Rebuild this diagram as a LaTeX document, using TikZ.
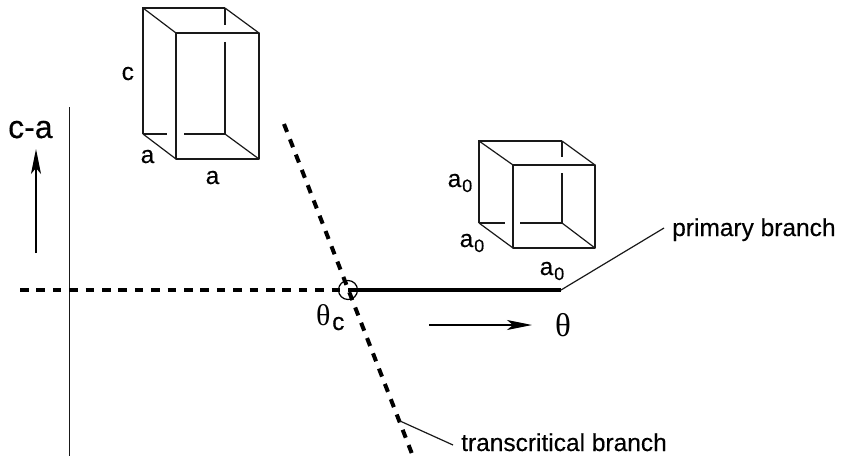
\documentclass[tikz,border=0pt]{standalone}
\usepackage{fontspec}
\setmainfont[FakeBold=0.3,AutoFakeBold=false]{Liberation Sans}
\newfontfamily\greekfont{Liberation Serif}
\usetikzlibrary{arrows.meta}
\tikzset{
  x=1pt,y=-1pt,
  edge/.style={draw=black!90,line width=1.2pt},
  thin line/.style={draw=black!90,line width=1.2pt},
  thick dash/.style={draw=black,line width=4pt,dash pattern=on 8.5pt off 7.9pt},
  thick solid/.style={draw=black,line width=4pt},
  axis arrow/.style={draw=black,line width=1.2pt,-{Stealth[length=25pt,width=10pt,inset=6pt]}},
  lab/.style={font=\fontsize{24.5}{28}\selectfont,inner sep=0pt,text=black,anchor=base west},
  biglab/.style={font=\fontsize{32}{36}\selectfont,inner sep=0pt,text=black,anchor=base west},
  greeklab/.style={font=\fontsize{33}{36}\selectfont\greekfont,inner sep=0pt,text=black},
  sublab/.style={font=\fontsize{18}{20}\selectfont,inner sep=0pt,text=black,anchor=base west},
}
\begin{document}
\begin{tikzpicture}
\useasboundingbox (0,0) rectangle (842,460);
% tall box
\coordinate (tbtl) at (143,8);
\coordinate (tbtr) at (225,8);
\coordinate (tbbl) at (143,134);
\coordinate (tbbr) at (225,134);
\coordinate (tftl) at (176,33);
\coordinate (tftr) at (259,33);
\coordinate (tfbl) at (176,159);
\coordinate (tfbr) at (259,159);
\draw[edge,line join=round] (tftl) -- (tftr) -- (tfbr) -- (tfbl) -- cycle;
\draw[edge] (tbbl) -- (tbtl) -- (tbtr);
\draw[edge] (tbtl) -- (tftl);
\draw[edge] (tbtr) -- (tftr);
\draw[edge] (tbbl) -- (tfbl);
\draw[edge] (tbbr) -- (tfbr);
\draw[edge] (tbtr) -- (225,25);
\draw[edge] (225,42) -- (tbbr);
\draw[edge] (tbbl) -- (167,134);
\draw[edge] (184,134) -- (tbbr);
% cube
\coordinate (sbtl) at (479,141);
\coordinate (sbtr) at (562,141);
\coordinate (sbbl) at (479,223);
\coordinate (sbbr) at (562,223);
\coordinate (sftl) at (513,165);
\coordinate (sftr) at (595,165);
\coordinate (sfbl) at (513,248);
\coordinate (sfbr) at (595,248);
\draw[edge,line join=round] (sftl) -- (sftr) -- (sfbr) -- (sfbl) -- cycle;
\draw[edge] (sbbl) -- (sbtl) -- (sbtr);
\draw[edge] (sbtl) -- (sftl);
\draw[edge] (sbtr) -- (sftr);
\draw[edge] (sbbl) -- (sfbl);
\draw[edge] (sbbr) -- (sfbr);
\draw[edge] (sbtr) -- (562,157);
\draw[edge] (562,173) -- (sbbr);
\draw[edge] (sbbl) -- (505,223);
\draw[edge] (520,223) -- (sbbr);
% axes
\coordinate (vtop) at (69.5,107);
\coordinate (vbot) at (69.5,456);
\draw[thin line] (vtop) -- (vbot);
\coordinate (ca1) at (36,253);
\coordinate (ca2) at (36,149);
\draw[axis arrow] (ca1) -- (ca2);
\coordinate (ta1) at (429,325);
\coordinate (ta2) at (532,325);
\draw[axis arrow] (ta1) -- (ta2);
% branches
\coordinate (hl) at (20,290);
\coordinate (crit) at (348,290);
\coordinate (hr) at (561,290);
\coordinate (dt) at (284,124);
\coordinate (db) at (414,459);
\draw[thick dash] (hl) -- (crit);
\draw[thick solid] (crit) -- (hr);
\draw[thick dash] (dt) -- (db);
\node[circle,draw=black,line width=1.2pt,minimum size=19pt,inner sep=0pt] (critc) at (crit) {};
% leaders
\node[lab] (prim) at (672,236) {primary branch};
\node[lab] (trans) at (461,451) {transcritical branch};
\coordinate (lp) at (664,228);
\coordinate (lt) at (400,421);
\coordinate (lte) at (453,445);
\draw[thin line] (hr) -- (lp);
\draw[thin line] (lt) -- (lte);
% labels
\node[lab] (lc) at (121.5,80) {c};
\node[lab] (la1) at (140.5,163) {a};
\node[lab] (la2) at (205.5,184) {a};
\node[lab] (la3) at (447.5,187) {a};
\node[sublab] (la3s) at (462,192) {0};
\node[lab] (la4) at (459.5,247) {a};
\node[sublab] (la4s) at (474,252) {0};
\node[lab] (la5) at (539.5,275) {a};
\node[sublab] (la5s) at (554,280) {0};
\node[biglab] (ca) at (8,138) {c-a};
\node[greeklab] (th) at (563,325) {θ};
\node[greeklab,font=\fontsize{30}{34}\selectfont\greekfont,anchor=base west] (thc) at (316,325) {θ};
\node[lab] (thcs) at (332,330) {c};
\end{tikzpicture}
\end{document}
